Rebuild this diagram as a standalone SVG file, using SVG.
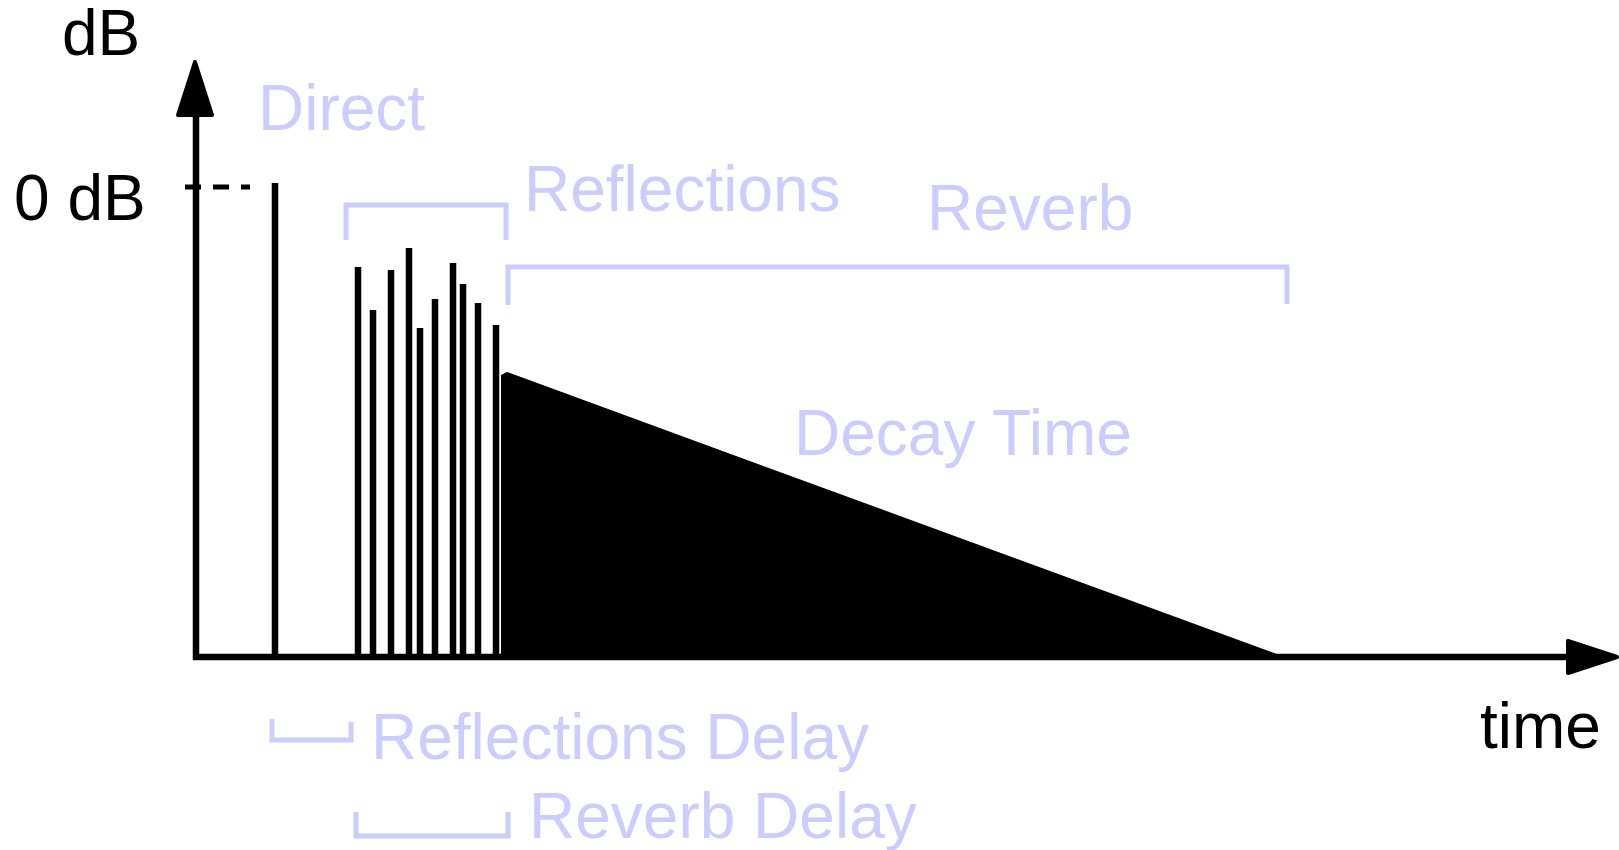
<svg xmlns="http://www.w3.org/2000/svg" width="1619" height="850" viewBox="0 0 1619 850">
<style>
.lbl{font-family:"Liberation Sans",Arial,sans-serif;font-size:64px;fill:#000}
.blue{fill:#ccccff}
.br{fill:none;stroke:#ccccff;stroke-width:5}
.bar{stroke:#000;stroke-width:6.5}
.axis{stroke:#000;stroke-width:6.5;fill:none}
</style>
<rect width="1619" height="850" fill="#fff"/>
<g id="connectors">
  <line class="axis" x1="196" y1="112" x2="196" y2="660"/>
  <line class="axis" x1="193" y1="657" x2="1572" y2="657"/>
  <polygon points="195,62 178,115 212,115" fill="#000" stroke="#000" stroke-width="4" stroke-linejoin="round"/>
  <polygon points="1617,657 1568,641 1568,673" fill="#000" stroke="#000" stroke-width="4" stroke-linejoin="round"/>
  <line x1="185" y1="187" x2="250" y2="187" stroke="#000" stroke-width="5" stroke-dasharray="16,12"/>
</g>
<g id="direct-impulse">
  <line class="bar" x1="275" y1="183" x2="275" y2="657"/>
</g>
<g id="reflection-impulses">
  <line class="bar" x1="358" y1="267" x2="358" y2="657"/>
  <line class="bar" x1="373" y1="310" x2="373" y2="657"/>
  <line class="bar" x1="391" y1="270" x2="391" y2="657"/>
  <line class="bar" x1="409" y1="248" x2="409" y2="657"/>
  <line class="bar" x1="420" y1="328" x2="420" y2="657"/>
  <line class="bar" x1="435" y1="299" x2="435" y2="657"/>
  <line class="bar" x1="453" y1="263" x2="453" y2="657"/>
  <line class="bar" x1="463" y1="284" x2="463" y2="657"/>
  <line class="bar" x1="478" y1="303" x2="478" y2="657"/>
  <line class="bar" x1="496" y1="325" x2="496" y2="657"/>
</g>
<g id="reverb-decay">
  <polygon points="501,375 507,372 1285,657 501,657" fill="#000"/>
</g>
<g id="brackets">
  <polyline class="br" points="346,240 346,205 506,205 506,240"/>
  <polyline class="br" points="508,305 508,267 1287,267 1287,304"/>
  <polyline class="br" points="272,719 272,740 351,740 351,722"/>
  <polyline class="br" points="356,812 356,836 508,836 508,812"/>
</g>
<g id="labels">
  <text class="lbl" x="62" y="55">dB</text>
  <text class="lbl" x="14" y="220">0 dB</text>
  <text class="lbl" x="1480" y="748">time</text>
  <text class="lbl blue" x="258" y="130">Direct</text>
  <text class="lbl blue" x="524" y="211">Reflections</text>
  <text class="lbl blue" x="927" y="230">Reverb</text>
  <text class="lbl blue" x="794" y="455">Decay Time</text>
  <text class="lbl blue" x="371" y="759">Reflections Delay</text>
  <text class="lbl blue" x="529" y="838">Reverb Delay</text>
</g>
</svg>
